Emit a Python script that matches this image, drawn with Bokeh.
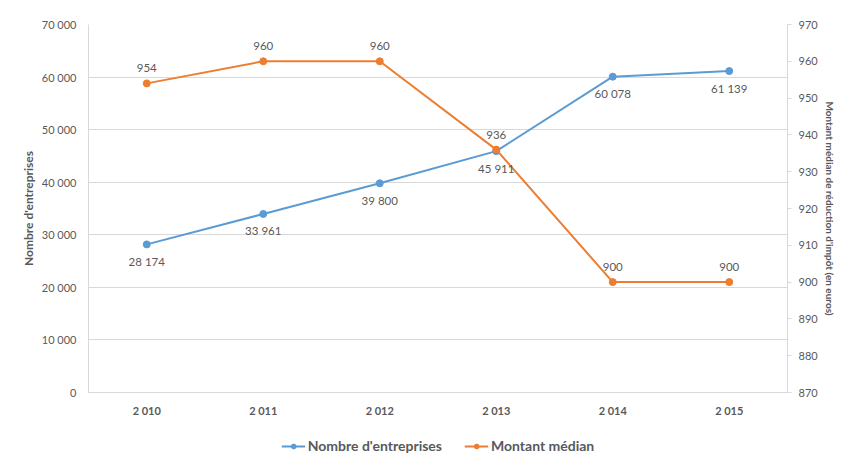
from bokeh.plotting import figure
from bokeh.layouts import column
from bokeh.models import (FactorRange, Range1d, LinearAxis, FixedTicker, ColumnDataSource,
                          LabelSet, Legend, LegendItem)
from bokeh.core.properties import value
from bokeh.embed import file_html
from bokeh.resources import INLINE

# ---- data ----
years = [2010, 2011, 2012, 2013, 2014, 2015]
entreprises = [28174, 33961, 39800, 45911, 60078, 61139]
montant = [954, 960, 960, 936, 900, 900]
left_ticks = [0, 10000, 20000, 30000, 40000, 50000, 60000, 70000]
right_ticks = [870, 880, 890, 900, 910, 920, 930, 940, 950, 960, 970]
series_names = ["Nombre d'entreprises", "Montant médian"]
left_title = "Nombre d'entreprises"
right_title = "Montant médian de réduction d'impôt (en euros)"

def fr(n):
    return f"{n:,}".replace(",", " ")

year_labels = [fr(y) for y in years]

BLUE = "#5B9BD5"
ORANGE = "#ED7D31"
TXT = "#595959"
GRID = "#D9D9D9"
FONT = "Lato"

W = 838
H_MAIN = 424
H_LEG = 30

p = figure(width=W, height=H_MAIN, x_range=FactorRange(*year_labels),
           y_range=Range1d(0, 70000), output_backend="svg", toolbar_location=None,
           min_border_left=88, min_border_right=50, min_border_top=24, min_border_bottom=32)
p.extra_y_ranges = {"right": Range1d(870, 970)}
p.outline_line_color = None
p.background_fill_color = "white"
p.border_fill_color = "white"

p.xgrid.grid_line_color = None
p.ygrid.grid_line_color = GRID
p.ygrid.ticker = FixedTicker(ticks=left_ticks)

# left axis
ya = p.yaxis[0]
ya.ticker = FixedTicker(ticks=left_ticks)
ya.major_label_overrides = {t: fr(t) for t in left_ticks}
ya.axis_line_color = GRID
ya.major_tick_line_color = None
ya.minor_tick_line_color = None
ya.major_label_standoff = 6
ya.major_label_text_color = TXT
ya.major_label_text_font = FONT
ya.major_label_text_font_size = "11px"
ya.axis_label = left_title
ya.axis_label_text_font = FONT
ya.axis_label_text_font_style = "bold"
ya.axis_label_text_font_size = "12px"
ya.axis_label_text_color = TXT
ya.axis_label_standoff = 3

# right axis
ra = LinearAxis(y_range_name="right", ticker=FixedTicker(ticks=right_ticks))
ra.axis_line_color = GRID
ra.major_tick_line_color = GRID
ra.major_tick_out = 4
ra.major_tick_in = 0
ra.minor_tick_line_color = None
ra.major_label_standoff = 7
ra.major_label_text_color = TXT
ra.major_label_text_font = FONT
ra.major_label_text_font_size = "11px"
ra.axis_label = right_title
ra.axis_label_text_font = FONT
ra.axis_label_text_font_style = "bold"
ra.axis_label_text_font_size = "10px"
ra.axis_label_text_color = TXT
ra.axis_label_standoff = 3
p.add_layout(ra, "right")

# bottom axis
xa = p.xaxis[0]
xa.axis_line_color = GRID
xa.major_tick_line_color = None
xa.major_label_standoff = 5
xa.major_label_text_color = TXT
xa.major_label_text_font = FONT
xa.major_label_text_font_style = "bold"
xa.major_label_text_font_size = "11px"

src = ColumnDataSource(dict(x=year_labels, e=entreprises, m=montant,
                            el=[fr(v) for v in entreprises], ml=[fr(v) for v in montant]))

p.line("x", "e", source=src, line_color=BLUE, line_width=2)
p.scatter("x", "e", source=src, size=7, fill_color=BLUE, line_color=BLUE)
p.line("x", "m", source=src, line_color=ORANGE, line_width=2, y_range_name="right")
p.scatter("x", "m", source=src, size=7, fill_color=ORANGE, line_color=ORANGE, y_range_name="right")

p.add_layout(LabelSet(x="x", y="e", text="el", source=src, y_offset=-17,
                      text_align="center", text_baseline="middle", text_color=TXT,
                      text_font=value(FONT), text_font_size="11.5px"))
p.add_layout(LabelSet(x="x", y="m", text="ml", source=src, y_offset=15, y_range_name="right",
                      text_align="center", text_baseline="middle", text_color=TXT,
                      text_font=value(FONT), text_font_size="11.5px"))

# ---- legend strip below the chart (series drawn out of its visible range) ----
q = figure(width=W, height=H_LEG, x_range=Range1d(0, 1), y_range=Range1d(0, 1),
           output_backend="svg", toolbar_location=None, x_axis_type=None, y_axis_type=None,
           min_border=0, min_border_left=30)
q.outline_line_color = None
q.xgrid.grid_line_color = None
q.ygrid.grid_line_color = None
qsrc = ColumnDataSource(dict(x=years, e=entreprises, m=montant))
ql1 = q.line("x", "e", source=qsrc, line_color=BLUE, line_width=2)
qc1 = q.scatter("x", "e", source=qsrc, size=7, fill_color=BLUE, line_color=BLUE)
ql2 = q.line("x", "m", source=qsrc, line_color=ORANGE, line_width=2)
qc2 = q.scatter("x", "m", source=qsrc, size=7, fill_color=ORANGE, line_color=ORANGE)

legend = Legend(items=[LegendItem(label=series_names[0], renderers=[ql1, qc1]),
                       LegendItem(label=series_names[1], renderers=[ql2, qc2])],
                orientation="horizontal", location="bottom_center")
legend.border_line_color = None
legend.background_fill_alpha = 0
legend.label_text_font = FONT
legend.label_text_font_style = "bold"
legend.label_text_font_size = "14px"
legend.label_text_color = TXT
legend.glyph_width = 24
legend.glyph_height = 12
legend.label_height = 12
legend.label_standoff = 3
legend.spacing = 22
legend.padding = 0
legend.margin = 0
q.add_layout(legend, "center")

layout = column(p, q, spacing=0)
open("out.html", "w").write(file_html(layout, INLINE))
